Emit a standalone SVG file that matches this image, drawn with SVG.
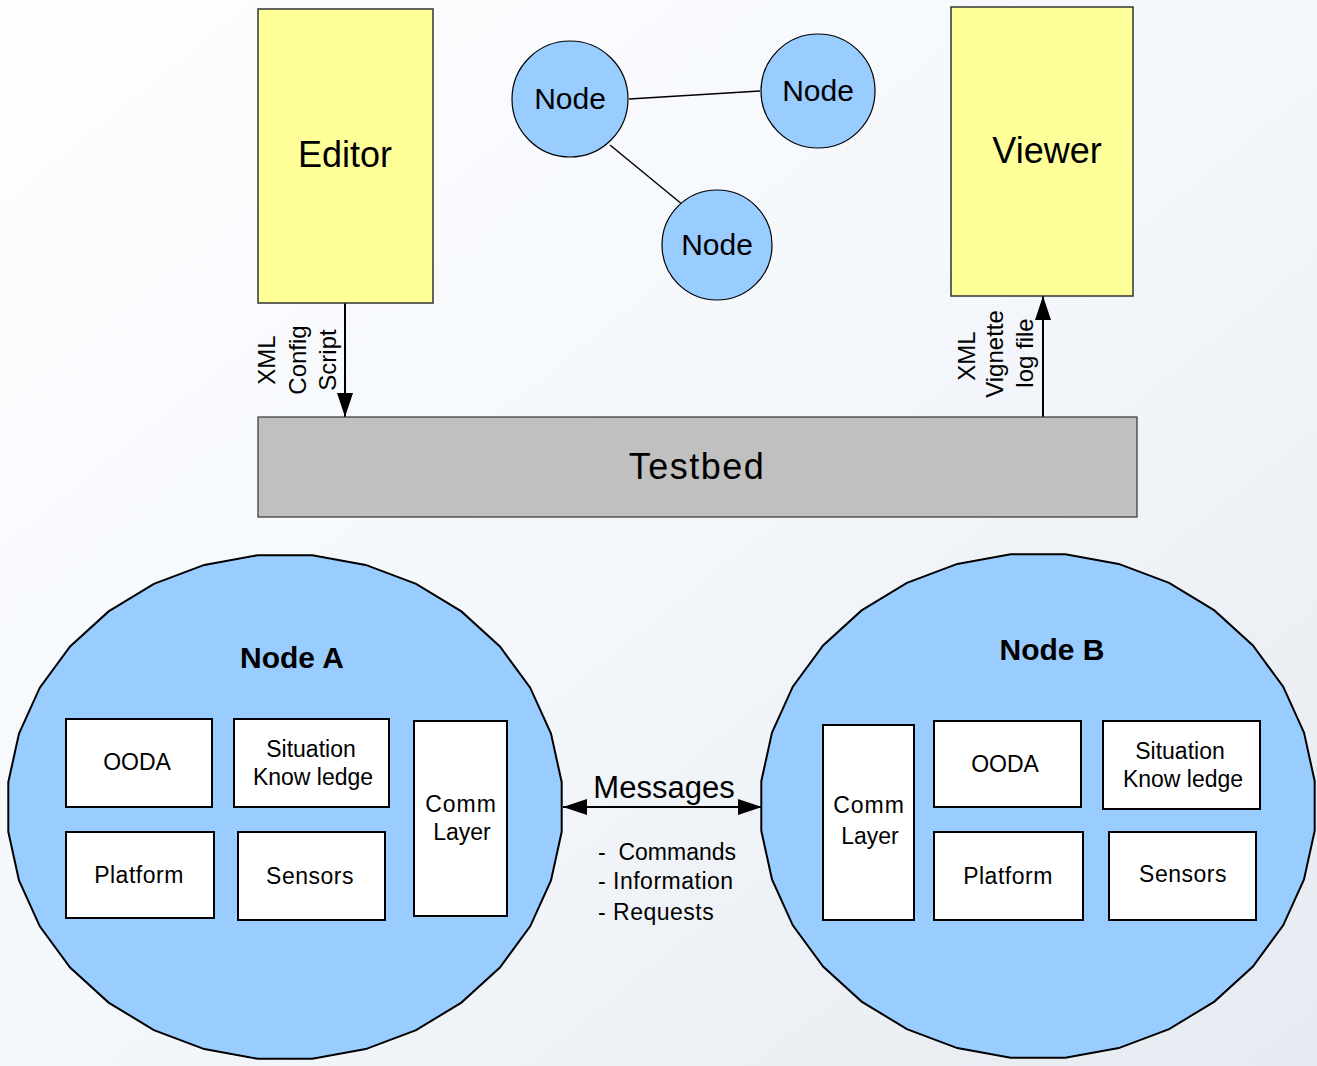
<svg xmlns="http://www.w3.org/2000/svg" xmlns:xlink="http://www.w3.org/1999/xlink" width="1317" height="1066" viewBox="0 0 1317 1066">
  <defs>
    <linearGradient id="bg" x1="0" y1="0" x2="1" y2="1">
      <stop offset="0" stop-color="#fdfeff"/>
      <stop offset="0.5" stop-color="#f4f7fb"/>
      <stop offset="1" stop-color="#e6ebf1"/>
    </linearGradient>
    <!-- faceted outline used for the two large nodes -->
    <polygon id="bigNode" points="276.7,24.8 266,73.4 245.2,119.3 214.9,160.5 176.4,195.6 131.1,223.1 80.7,242.1 27.3,251.8 -27.3,251.8 -80.7,242.1 -131.1,223.1 -176.4,195.6 -214.9,160.5 -245.2,119.3 -266,73.4 -276.7,24.8 -276.7,-24.8 -266,-73.4 -245.2,-119.3 -214.9,-160.5 -176.4,-195.6 -131.1,-223.1 -80.7,-242.1 -27.3,-251.8 27.3,-251.8 80.7,-242.1 131.1,-223.1 176.4,-195.6 214.9,-160.5 245.2,-119.3 266,-73.4 276.7,-24.8"/>
    <marker id="arrowEnd" viewBox="0 0 24 16" refX="24" refY="8" markerWidth="24" markerHeight="16" markerUnits="userSpaceOnUse" orient="auto">
      <path d="M0,0 L24,8 L0,16 Z" fill="#000"/>
    </marker>
    <marker id="arrowStart" viewBox="0 0 24 16" refX="0" refY="8" markerWidth="24" markerHeight="16" markerUnits="userSpaceOnUse" orient="auto">
      <path d="M24,0 L0,8 L24,16 Z" fill="#000"/>
    </marker>
  </defs>
  <style>
    text { font-family: "Liberation Sans", Arial, sans-serif; fill: #000; }
    .tool { fill: #ffff99; stroke: #333; stroke-width: 1.5; }
    .big { font-size: 36px; text-anchor: middle; }
    .small { fill: #99ccff; stroke: #000; stroke-width: 1.2; }
    .smallLbl { font-size: 30px; text-anchor: middle; }
    .node { fill: #99ccff; stroke: #000; stroke-width: 2; }
    .title { font-size: 30px; font-weight: bold; text-anchor: middle; }
    .box { fill: #fff; stroke: #000; stroke-width: 2; }
    .boxLbl { font-size: 23px; text-anchor: middle; }
    .side { font-size: 24px; text-anchor: middle; }
    .link { stroke: #000; stroke-width: 1.5; fill: none; }
    .flow { stroke: #000; stroke-width: 2; fill: none; }
    .note { font-size: 23px; }
  </style>

  <rect x="0" y="0" width="1317" height="1066" fill="url(#bg)"/>

  <!-- connectors -->
  <g id="connectors">
    <line class="link" x1="629" y1="99" x2="760" y2="91"/>
    <line class="link" x1="610" y1="145" x2="683" y2="205"/>
    <line class="flow" x1="345" y1="303" x2="345" y2="417" marker-end="url(#arrowEnd)"/>
    <line class="flow" x1="1043" y1="417" x2="1043" y2="296" marker-end="url(#arrowEnd)"/>
    <line class="flow" x1="563" y1="807" x2="762" y2="807" marker-start="url(#arrowStart)" marker-end="url(#arrowEnd)"/>
    <g class="side">
      <text transform="translate(275,360) rotate(-90)">XML</text>
      <text transform="translate(306,360) rotate(-90)">Config</text>
      <text transform="translate(336,360) rotate(-90)">Script</text>
      <text transform="translate(975,356) rotate(-90)">XML</text>
      <text transform="translate(1003,354) rotate(-90)">Vignette</text>
      <text transform="translate(1033,353) rotate(-90)">log file</text>
    </g>
    <text x="664" y="798" font-size="31" text-anchor="middle">Messages</text>
    <g class="note">
      <text x="598" y="860" xml:space="preserve">-  Commands</text>
      <text x="598" y="889" letter-spacing="0.5">- Information</text>
      <text x="598" y="920" letter-spacing="0.5">- Requests</text>
    </g>
  </g>

  <g id="editor">
    <rect class="tool" x="258" y="9" width="175" height="294"/>
    <text class="big" x="345" y="167">Editor</text>
  </g>

  <g id="viewer">
    <rect class="tool" x="951" y="7" width="182" height="289"/>
    <text class="big" x="1047" y="163">Viewer</text>
  </g>

  <g id="node1">
    <circle class="small" cx="570" cy="99" r="58"/>
    <text class="smallLbl" x="570" y="109">Node</text>
  </g>
  <g id="node2">
    <circle class="small" cx="818" cy="91" r="57"/>
    <text class="smallLbl" x="818" y="101">Node</text>
  </g>
  <g id="node3">
    <circle class="small" cx="717" cy="245" r="55"/>
    <text class="smallLbl" x="717" y="255">Node</text>
  </g>

  <g id="testbed">
    <rect x="258" y="417" width="879" height="100" fill="#c0c0c0" stroke="#333" stroke-width="1.2"/>
    <text class="big" x="697" y="479" letter-spacing="1.5">Testbed</text>
  </g>

  <g id="nodeA">
    <use xlink:href="#bigNode" class="node" x="285" y="807"/>
    <text class="title" x="292" y="668">Node A</text>
    <rect class="box" x="66" y="719" width="146" height="88"/>
    <text class="boxLbl" x="137" y="770">OODA</text>
    <rect class="box" x="234" y="719" width="155" height="88"/>
    <text class="boxLbl" x="311" y="757">Situation</text>
    <text class="boxLbl" x="313" y="785">Know ledge</text>
    <rect class="box" x="414" y="721" width="93" height="195"/>
    <text class="boxLbl" x="461" y="812" letter-spacing="1">Comm</text>
    <text class="boxLbl" x="462" y="840">Layer</text>
    <rect class="box" x="66" y="832" width="148" height="86"/>
    <text class="boxLbl" x="139" y="883" letter-spacing="0.5">Platform</text>
    <rect class="box" x="238" y="832" width="147" height="88"/>
    <text class="boxLbl" x="310" y="884" letter-spacing="0.5">Sensors</text>
  </g>

  <g id="nodeB">
    <use xlink:href="#bigNode" class="node" x="1038" y="806"/>
    <text class="title" x="1052" y="660">Node B</text>
    <rect class="box" x="823" y="725" width="91" height="195"/>
    <text class="boxLbl" x="869" y="813" letter-spacing="1">Comm</text>
    <text class="boxLbl" x="870" y="844">Layer</text>
    <rect class="box" x="934" y="721" width="147" height="86"/>
    <text class="boxLbl" x="1005" y="772">OODA</text>
    <rect class="box" x="1103" y="721" width="157" height="88"/>
    <text class="boxLbl" x="1180" y="759">Situation</text>
    <text class="boxLbl" x="1183" y="787">Know ledge</text>
    <rect class="box" x="934" y="832" width="149" height="88"/>
    <text class="boxLbl" x="1008" y="884" letter-spacing="0.5">Platform</text>
    <rect class="box" x="1109" y="832" width="147" height="88"/>
    <text class="boxLbl" x="1183" y="882" letter-spacing="0.5">Sensors</text>
  </g>
</svg>
